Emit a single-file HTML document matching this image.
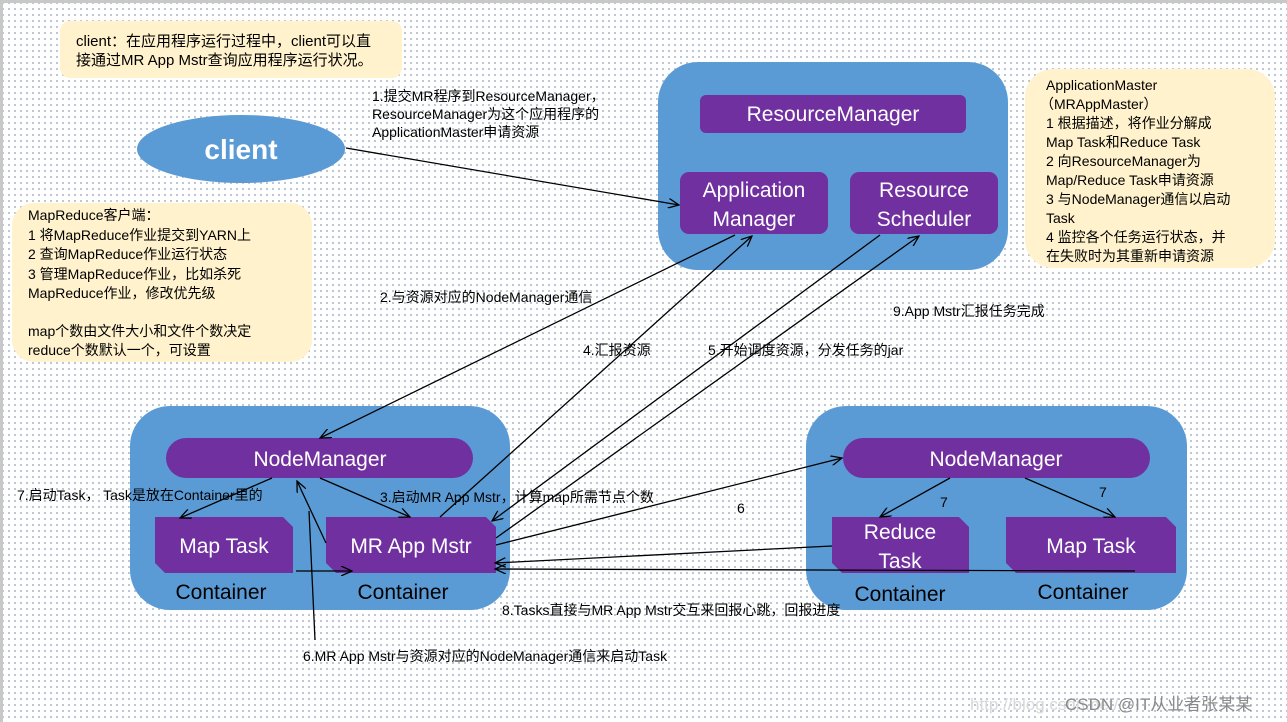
<!DOCTYPE html>
<html><head><meta charset="utf-8"><style>
html,body{margin:0;padding:0;}
body{width:1287px;height:722px;overflow:hidden;background-color:#fff;background-image:radial-gradient(circle,#a9b8cc 0.8px,transparent 1.1px);background-size:6px 6px;font-family:"Liberation Sans","Noto Sans CJK SC",sans-serif;}
svg{position:absolute;left:0;top:0;}
text{font-family:"Liberation Sans","Noto Sans CJK SC",sans-serif;}
</style></head><body>
<svg width="1287" height="722" viewBox="0 0 1287 722">
<defs><marker id="a" markerWidth="12" markerHeight="10" refX="11" refY="5" orient="auto" markerUnits="userSpaceOnUse"><path d="M0,0 L11,5 L0,10" fill="none" stroke="#000" stroke-width="1.3"/></marker></defs>
<rect x="0" y="0" width="1287" height="3" fill="#c8c8c8"/><rect x="0" y="0" width="3" height="722" fill="#c8c8c8"/>
<!-- notes -->
<rect x="60" y="21" width="342" height="57" rx="10" fill="#fff2cc"/>
<text font-size="15" fill="#000"><tspan x="76" y="46">client：在应用程序运行过程中，client可以直</tspan><tspan x="76" y="65">接通过MR App Mstr查询应用程序运行状况。</tspan></text>
<rect x="12" y="203" width="300" height="159" rx="22" fill="#fff2cc"/>
<text font-size="14" fill="#000"><tspan x="28" y="220">MapReduce客户端：</tspan><tspan x="28" y="240">1 将MapReduce作业提交到YARN上</tspan><tspan x="28" y="259">2 查询MapReduce作业运行状态</tspan><tspan x="28" y="279">3 管理MapReduce作业，比如杀死</tspan><tspan x="28" y="298">MapReduce作业，修改优先级</tspan><tspan x="28" y="336">map个数由文件大小和文件个数决定</tspan><tspan x="28" y="355">reduce个数默认一个，可设置</tspan></text>
<rect x="1025" y="69" width="250" height="199" rx="28" fill="#fff2cc"/>
<text font-size="14" fill="#000"><tspan x="1046" y="90">ApplicationMaster</tspan><tspan x="1040" y="109">（MRAppMaster）</tspan><tspan x="1046" y="128">1 根据描述，将作业分解成</tspan><tspan x="1046" y="147">Map Task和Reduce Task</tspan><tspan x="1046" y="166">2 向ResourceManager为</tspan><tspan x="1046" y="185">Map/Reduce Task申请资源</tspan><tspan x="1046" y="204">3 与NodeManager通信以启动</tspan><tspan x="1046" y="223">Task</tspan><tspan x="1046" y="242">4 监控各个任务运行状态，并</tspan><tspan x="1046" y="261">在失败时为其重新申请资源</tspan></text>
<!-- client -->
<ellipse cx="241" cy="149" rx="104" ry="34" fill="#5b9bd5"/>
<text x="241" y="159" font-size="28" font-weight="bold" fill="#fff" text-anchor="middle">client</text>
<!-- RM -->
<rect x="658" y="62" width="350" height="208" rx="40" fill="#5b9bd5"/>
<rect x="700" y="95" width="266" height="38" rx="6" fill="#7030a0"/>
<text x="833" y="121" font-size="21" fill="#fff" text-anchor="middle">ResourceManager</text>
<rect x="680" y="172" width="148" height="62" rx="9" fill="#7030a0"/>
<text font-size="21" fill="#fff" text-anchor="middle"><tspan x="754" y="197">Application</tspan><tspan x="754" y="226">Manager</tspan></text>
<rect x="850" y="172" width="148" height="62" rx="9" fill="#7030a0"/>
<text font-size="21" fill="#fff" text-anchor="middle"><tspan x="924" y="197">Resource</tspan><tspan x="924" y="226">Scheduler</tspan></text>
<!-- left container -->
<rect x="130" y="406" width="380" height="204" rx="40" fill="#5b9bd5"/>
<rect x="166" y="438" width="307" height="40" rx="20" fill="#7030a0"/>
<text x="320" y="466" font-size="21" fill="#fff" text-anchor="middle">NodeManager</text>
<path d="M155,517 H283 L293,527 V573 H165 L155,563 Z" fill="#7030a0"/>
<text x="224" y="553" font-size="21" fill="#fff" text-anchor="middle">Map Task</text>
<path d="M326,517 H486 L496,527 V573 H336 L326,563 Z" fill="#7030a0"/>
<text x="411" y="553" font-size="21" fill="#fff" text-anchor="middle">MR App Mstr</text>
<text x="221" y="599" font-size="21" fill="#000" text-anchor="middle">Container</text>
<text x="403" y="599" font-size="21" fill="#000" text-anchor="middle">Container</text>
<!-- right container -->
<rect x="806" y="406" width="381" height="204" rx="40" fill="#5b9bd5"/>
<rect x="843" y="438" width="307" height="40" rx="20" fill="#7030a0"/>
<text x="996" y="466" font-size="21" fill="#fff" text-anchor="middle">NodeManager</text>
<path d="M832,517 H959 L969,527 V573 H842 L832,563 Z" fill="#7030a0"/>
<text font-size="21" fill="#fff" text-anchor="middle"><tspan x="900" y="539">Reduce</tspan><tspan x="900" y="568">Task</tspan></text>
<path d="M1006,517 H1166 L1176,527 V573 H1016 L1006,563 Z" fill="#7030a0"/>
<text x="1091" y="553" font-size="21" fill="#fff" text-anchor="middle">Map Task</text>
<text x="900" y="601" font-size="21" fill="#000" text-anchor="middle">Container</text>
<text x="1083" y="599" font-size="21" fill="#000" text-anchor="middle">Container</text>
<!-- arrows -->
<g stroke="#000" stroke-width="1.3" fill="none">
<line x1="346" y1="148" x2="679" y2="205" marker-end="url(#a)"/>
<line x1="735" y1="235" x2="320" y2="438" marker-end="url(#a)"/>
<line x1="440" y1="517" x2="752" y2="236" marker-end="url(#a)"/>
<line x1="880" y1="235" x2="492" y2="521" marker-end="url(#a)"/>
<line x1="496" y1="538" x2="919" y2="236" marker-end="url(#a)"/>
<line x1="496" y1="545" x2="842" y2="458" marker-end="url(#a)"/>
<line x1="832" y1="546" x2="495" y2="563" marker-end="url(#a)"/>
<line x1="1135" y1="571" x2="495" y2="569" marker-end="url(#a)"/>
<line x1="272" y1="478" x2="180" y2="518" marker-end="url(#a)"/>
<line x1="320" y1="478" x2="410" y2="517" marker-end="url(#a)"/>
<line x1="326" y1="543" x2="297" y2="481" marker-end="url(#a)"/>
<line x1="315" y1="640" x2="309" y2="511"/>
<line x1="296" y1="571" x2="352" y2="571" marker-end="url(#a)"/>
<line x1="950" y1="478" x2="880" y2="517" marker-end="url(#a)"/>
<line x1="1025" y1="478" x2="1115" y2="517" marker-end="url(#a)"/>
</g>
<!-- labels -->
<g font-size="14" fill="#000">
<text><tspan x="372" y="101">1.提交MR程序到ResourceManager，</tspan><tspan x="372" y="119">ResourceManager为这个应用程序的</tspan><tspan x="372" y="137">ApplicationMaster申请资源</tspan></text>
<text x="380" y="302">2.与资源对应的NodeManager通信</text>
<text x="583" y="355">4.汇报资源</text>
<text x="708" y="355">5.开始调度资源，分发任务的jar</text>
<text x="893" y="316">9.App Mstr汇报任务完成</text>
<text x="17" y="500">7.启动Task， Task是放在Container里的</text>
<text x="380" y="502">3.启动MR App Mstr，计算map所需节点个数</text>
<text x="737" y="513">6</text>
<text x="940" y="507">7</text>
<text x="1099" y="497">7</text>
<text x="502" y="615">8.Tasks直接与MR App Mstr交互来回报心跳，回报进度</text>
<text x="303" y="661">6.MR App Mstr与资源对应的NodeManager通信来启动Task</text>
</g>
<text x="970" y="710" font-size="17" fill="#d8d8d8" font-family="Liberation Mono,monospace">http://blog.csdn.net/</text>
<text x="1065" y="710" font-size="17" fill="#8a8a8a">CSDN @IT从业者张某某</text>
</svg>
</body></html>
